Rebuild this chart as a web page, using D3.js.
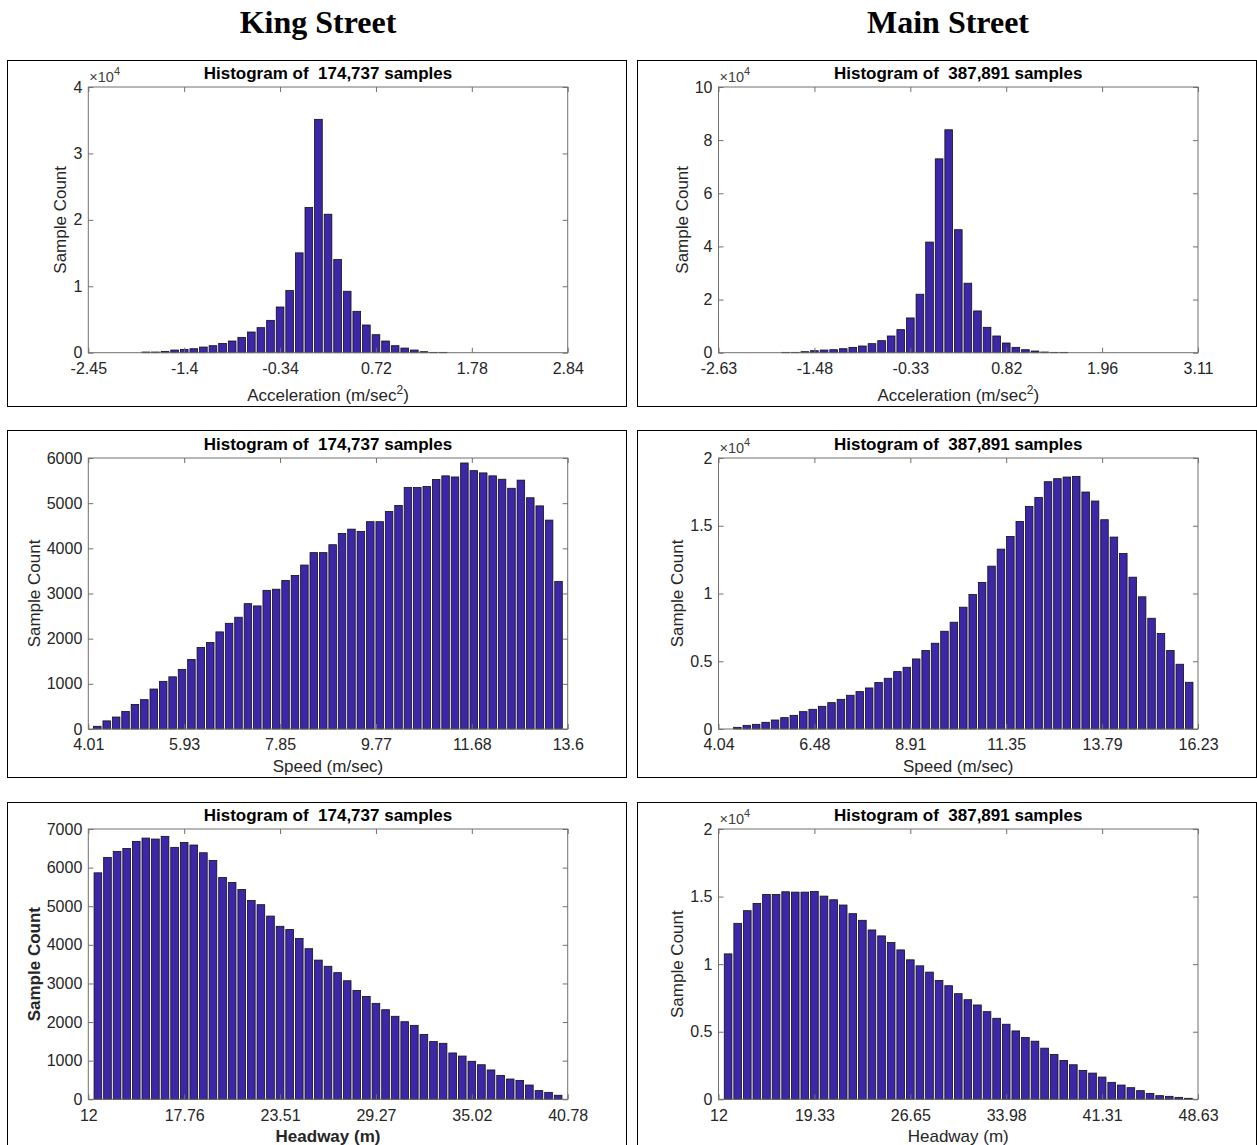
<!DOCTYPE html>
<html>
<head>
<meta charset="utf-8">
<script src="https://cdn.jsdelivr.net/npm/d3@7"></script>
<style>
  body { margin: 0; background: #fff; }
  svg { display: block; }
</style>
</head>
<body>
<div id="chart"></div>
<script>
// --- DATA ---
const streets = ["King Street", "Main Street"];
const sampleTotals = ["174,737", "387,891"];

// King Street, acceleration: 50 bins over the x range, only the non-empty ones kept
const kingAccelRange = [-2.45, 2.84];
const kingAccelTicks = ["-2.45", "-1.4", "-0.34", "0.72", "1.78", "2.84"];
const kingAccelBins = [-1.815, 0.1058]; // first bar centre, bin width
const kingAccelCounts = [100, 100, 200, 400, 500, 600, 850, 1055, 1400, 1760, 2310, 3115, 3770, 4870,
  6880, 9350, 15030, 21860, 35130, 20850, 14020, 9250, 6230, 4170, 2710, 1760, 1055, 700, 400, 150, 50, 50];

// Main Street, acceleration
const mainAccelRange = [-2.63, 3.11];
const mainAccelTicks = ["-2.63", "-1.48", "-0.33", "0.82", "1.96", "3.11"];
const mainAccelBins = [-1.826, 0.1148];
const mainAccelCounts = [130, 130, 380, 750, 1000, 1130, 1510, 2010, 2520, 3400, 4530, 6290, 8680, 13080,
  22010, 41640, 72960, 83900, 46290, 26160, 15720, 9560, 6290, 3650, 2010, 1130, 630, 250, 130, 130];

// King Street, speed
const kingSpeedRange = [4.01, 13.6];
const kingSpeedTicks = ["4.01", "5.93", "7.85", "9.77", "11.68", "13.6"];
const kingSpeedBins = [4.19, 0.1883];
const kingSpeedCounts = [60, 180, 265, 390, 545, 650, 885, 1055, 1155, 1320, 1540, 1805, 1915, 2150, 2340,
  2475, 2775, 2725, 3070, 3095, 3290, 3400, 3630, 3905, 3905, 4080, 4330, 4425, 4375, 4590, 4590, 4815,
  4950, 5345, 5345, 5370, 5525, 5605, 5580, 5890, 5720, 5670, 5605, 5530, 5330, 5510, 5120, 4940, 4625, 3265];

// Main Street, speed
const mainSpeedRange = [4.04, 16.23];
const mainSpeedTicks = ["4.04", "6.48", "8.91", "11.35", "13.79", "16.23"];
const mainSpeedBins = [4.52, 0.2393];
const mainSpeedCounts = [125, 270, 345, 495, 665, 840, 1010, 1280, 1455, 1675, 1945, 2190, 2490, 2760,
  3030, 3425, 3745, 4235, 4555, 5170, 5790, 6330, 7215, 7880, 8990, 9925, 10815, 12020, 13275, 14210,
  15320, 16430, 17095, 18250, 18475, 18595, 18645, 17490, 16825, 15445, 14165, 12955, 11205, 9755, 8175,
  7045, 5790, 4780, 3450];

// King Street, headway
const kingHeadRange = [12, 40.78];
const kingHeadTicks = ["12", "17.76", "23.51", "29.27", "35.02", "40.78"];
const kingHeadBins = [12.576, 0.5756];
const kingHeadCounts = [5865, 6265, 6420, 6495, 6680, 6765, 6740, 6810, 6525, 6650, 6585, 6385, 6185,
  5745, 5615, 5435, 5150, 5040, 4745, 4480, 4400, 4165, 3900, 3605, 3445, 3280, 3070, 2820, 2665, 2485,
  2320, 2150, 2010, 1915, 1680, 1495, 1450, 1200, 1120, 985, 895, 760, 620, 525, 490, 370, 225, 180, 105];

// Main Street, headway
const mainHeadRange = [12, 48.63];
const mainHeadTicks = ["12", "19.33", "26.65", "33.98", "41.31", "48.63"];
const mainHeadBins = [12.733, 0.7326];
const mainHeadCounts = [10760, 13020, 13955, 14495, 15160, 15160, 15355, 15330, 15330, 15380, 15035,
  14765, 14375, 13735, 13245, 12530, 12090, 11595, 11055, 10320, 9875, 9410, 8795, 8405, 7815, 7370,
  6980, 6485, 5995, 5555, 5060, 4570, 4300, 3785, 3315, 2875, 2555, 2140, 1940, 1645, 1255, 1055, 860,
  640, 440, 270, 220, 145, 75];

// --- LAYOUT ---
const W = 1257, H = 1145;
const boxX = [[7, 626], [637, 1256]];
const boxY = [[60, 406], [430, 777], [802, 1170]];
const plotX = [[88.3, 567.7], [718.5, 1198]];
const plotY = [[87, 352.7], [458, 729], [829, 1099.3]];

const panels = [
  { row: 0, col: 0, range: kingAccelRange, ticks: kingAccelTicks, bins: kingAccelBins, counts: kingAccelCounts, yMax: 40000, yStep: 10000, exp: 4, label: "accel" },
  { row: 0, col: 1, range: mainAccelRange, ticks: mainAccelTicks, bins: mainAccelBins, counts: mainAccelCounts, yMax: 100000, yStep: 20000, exp: 4, label: "accel" },
  { row: 1, col: 0, range: kingSpeedRange, ticks: kingSpeedTicks, bins: kingSpeedBins, counts: kingSpeedCounts, yMax: 6000, yStep: 1000, exp: 0, label: "Speed (m/sec)" },
  { row: 1, col: 1, range: mainSpeedRange, ticks: mainSpeedTicks, bins: mainSpeedBins, counts: mainSpeedCounts, yMax: 20000, yStep: 5000, exp: 4, label: "Speed (m/sec)" },
  { row: 2, col: 0, range: kingHeadRange, ticks: kingHeadTicks, bins: kingHeadBins, counts: kingHeadCounts, yMax: 7000, yStep: 1000, exp: 0, label: "Headway (m)", bold: true },
  { row: 2, col: 1, range: mainHeadRange, ticks: mainHeadTicks, bins: mainHeadBins, counts: mainHeadCounts, yMax: 20000, yStep: 5000, exp: 4, label: "Headway (m)" }
];

const barColor = "#3e26a8";
const axisColor = "#262626";
const frameColor = "#707070";

const svg = d3.select("#chart").append("svg")
  .attr("width", W).attr("height", H)
  .style("font-family", "'Liberation Sans', Arial, Helvetica, sans-serif");

// column headings
streets.forEach((s, c) => {
  svg.append("text")
    .attr("x", (boxX[c][0] + boxX[c][1]) / 2 + 1.5)
    .attr("y", 33)
    .attr("text-anchor", "middle")
    .style("font-family", "'Liberation Serif', 'Times New Roman', serif")
    .style("font-weight", "bold")
    .style("font-size", "32px")
    .text(s);
});

function drawPanel(p) {
  const [bx0, bx1] = boxX[p.col], [by0, by1] = boxY[p.row];
  const [left, right] = plotX[p.col], [top, bottom] = plotY[p.row];

  svg.append("rect")
    .attr("x", bx0 + 0.5).attr("y", by0 + 0.5)
    .attr("width", bx1 - bx0).attr("height", by1 - by0)
    .attr("fill", "#fff").attr("stroke", "#000").attr("stroke-width", 1);

  const g = svg.append("g");
  const x = d3.scaleLinear().domain(p.range).range([left, right]);
  const y = d3.scaleLinear().domain([0, p.yMax]).range([bottom, top]);

  const [c0, bw] = p.bins;
  const centers = p.counts.map((_, i) => c0 + i * bw);

  g.append("g").selectAll("rect").data(p.counts).join("rect")
    .attr("x", (d, i) => x(centers[i] - 0.4 * bw))
    .attr("width", (d, i) => x(centers[i] + 0.4 * bw) - x(centers[i] - 0.4 * bw))
    .attr("y", d => y(d))
    .attr("height", d => bottom - y(d))
    .attr("fill", barColor)
    .attr("stroke", "#111")
    .attr("stroke-width", 0.8);

  // axes, ticks drawn inward like MATLAB
  const xt = d3.range(6).map(i => p.range[0] + i * (p.range[1] - p.range[0]) / 5);
  const yt = d3.range(0, p.yMax + 1, p.yStep);
  const fmt = d3.format("~g");

  const styleAxis = sel => {
    sel.select(".domain").remove();
    sel.selectAll(".tick line").attr("stroke", frameColor);
    sel.selectAll(".tick text").attr("fill", axisColor).style("font-size", "16px");
  };

  g.append("g").attr("transform", `translate(0,${bottom})`)
    .call(d3.axisBottom(x).tickValues(xt).tickFormat((d, i) => p.ticks[i]).tickSizeInner(-5).tickSizeOuter(0).tickPadding(10))
    .call(styleAxis);
  g.append("g").attr("transform", `translate(0,${top})`)
    .call(d3.axisTop(x).tickValues(xt).tickFormat("").tickSizeInner(-5).tickSizeOuter(0))
    .call(styleAxis);
  const yAxis = g.append("g").attr("transform", `translate(${left},0)`)
    .call(d3.axisLeft(y).tickValues(yt).tickFormat(d => fmt(d / Math.pow(10, p.exp))).tickSizeInner(-5).tickSizeOuter(0).tickPadding(6))
    .call(styleAxis);
  g.append("g").attr("transform", `translate(${right},0)`)
    .call(d3.axisRight(y).tickValues(yt).tickFormat("").tickSizeInner(-5).tickSizeOuter(0))
    .call(styleAxis);

  g.append("rect")
    .attr("x", left).attr("y", top)
    .attr("width", right - left).attr("height", bottom - top)
    .attr("fill", "none").attr("stroke", frameColor).attr("stroke-width", 1);

  // exponent marker
  if (p.exp > 0) {
    const e = g.append("text")
      .attr("x", left + 1).attr("y", top - 5)
      .attr("fill", "#404040").style("font-size", "14.5px");
    e.append("tspan").text("\u00d710");
    e.append("tspan").attr("dy", -7).style("font-size", "11px").text(p.exp);
  }

  // title
  g.append("text")
    .attr("x", (left + right) / 2).attr("y", top - 8)
    .attr("text-anchor", "middle")
    .style("font-weight", "bold").style("font-size", "17px")
    .style("white-space", "pre")
    .text(`Histogram of  ${sampleTotals[p.col]} samples`);

  // x label
  const xl = g.append("text")
    .attr("x", (left + right) / 2)
    .attr("y", bottom + (p.label === "accel" ? 48.5 : 43))
    .attr("text-anchor", "middle")
    .attr("fill", axisColor)
    .style("font-size", "17px")
    .style("font-weight", p.bold ? "bold" : "normal");
  if (p.label === "accel") {
    xl.append("tspan").text("Acceleration (m/sec");
    xl.append("tspan").attr("dy", -7).style("font-size", "12px").text("2");
    xl.append("tspan").attr("dy", 7).text(")");
  } else {
    xl.text(p.label);
  }

  // y label, placed just left of the widest tick label
  let maxW = 0;
  yAxis.selectAll(".tick text").each(function () { maxW = Math.max(maxW, this.getComputedTextLength()); });
  const ylx = left - 6 - maxW - 7;
  g.append("text")
    .attr("transform", `translate(${ylx},${(top + bottom) / 2}) rotate(-90)`)
    .attr("text-anchor", "middle")
    .attr("fill", axisColor)
    .style("font-size", "17px")
    .style("font-weight", p.bold ? "bold" : "normal")
    .text("Sample Count");
}

panels.forEach(drawPanel);
</script>
</body>
</html>
